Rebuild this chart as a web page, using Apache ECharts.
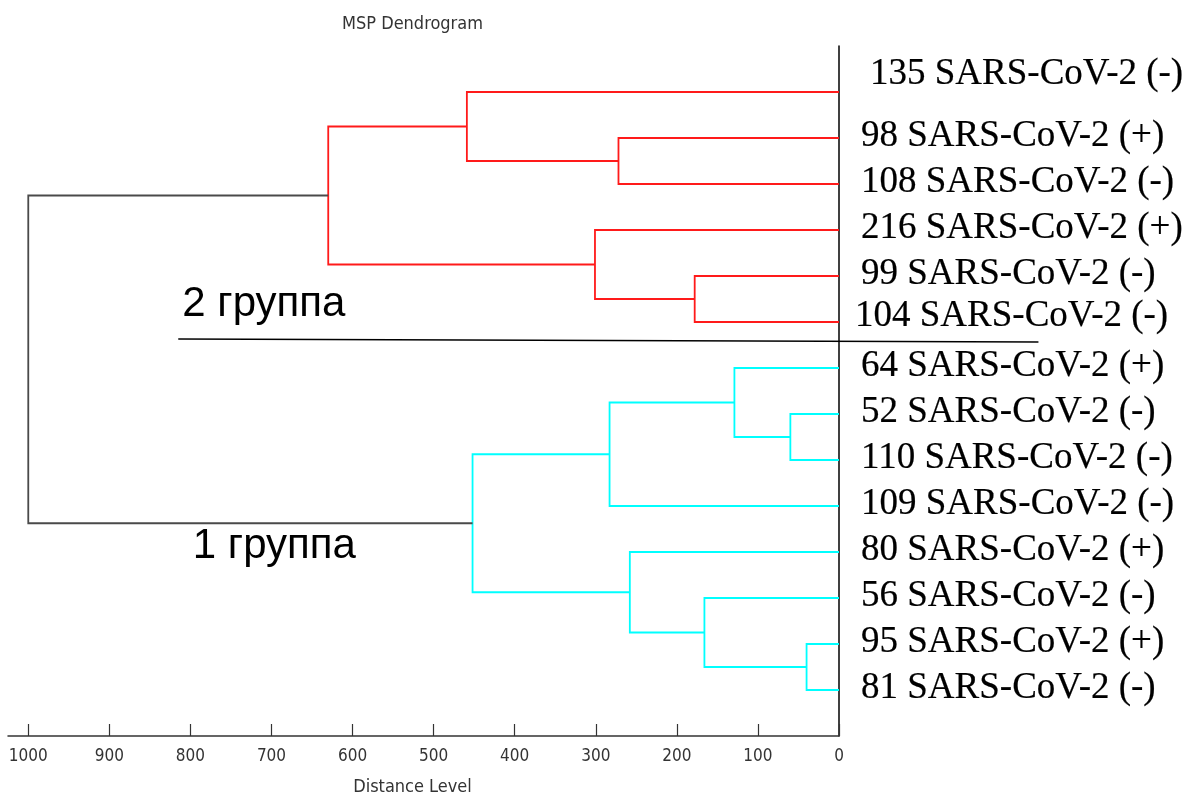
<!DOCTYPE html>
<html><head><meta charset="utf-8">
<script src="https://cdn.jsdelivr.net/npm/echarts@6/dist/echarts.min.js"></script>
<style>html,body{margin:0;padding:0;background:#fff}#chart{width:1190px;height:796px}</style>
</head><body><div id="chart"></div>
<script>
// Leaves, top to bottom
const leafNames = [
  '135 SARS-CoV-2 (-)', '98 SARS-CoV-2 (+)', '108 SARS-CoV-2 (-)', '216 SARS-CoV-2 (+)',
  '99 SARS-CoV-2 (-)', '104 SARS-CoV-2 (-)', '64 SARS-CoV-2 (+)', '52 SARS-CoV-2 (-)',
  '110 SARS-CoV-2 (-)', '109 SARS-CoV-2 (-)', '80 SARS-CoV-2 (+)', '56 SARS-CoV-2 (-)',
  '95 SARS-CoV-2 (+)', '81 SARS-CoV-2 (-)'
];
// Linkage: merge k creates node 14+k from nodes mergeLeft[k] and mergeRight[k]
const mergeLeft   = [12, 7, 6, 11, 4, 10, 1, 16, 3, 21, 0, 24, 25];
const mergeRight  = [13, 8, 15, 14, 5, 17, 2, 9, 18, 19, 20, 22, 23];
const mergeHeight = [40, 60, 129, 166, 178, 258, 272, 283, 301, 452, 459, 630, 1000];
const mergeGroup  = ['g1','g1','g1','g1','g2','g1','g2','g1','g2','g1','g2','g2','root'];
const xTickValues = [0, 100, 200, 300, 400, 500, 600, 700, 800, 900, 1000];
const groupNames = ['2 группа', '1 группа'];

// styling
const groupColor = { g1: '#00ffff', g2: '#ff1a1a', root: '#4a4a4a' };
const narrow = "'Liberation Sans Narrow', 'DejaVu Sans Condensed', sans-serif";
const labelNudge = { 0: [9, -16], 5: [-6, -4] }; // hand-placed label offsets in the original

const nodeY = leafNames.map((_, i) => i);
const nodeH = leafNames.map(() => 0);
const linesData = [];
mergeHeight.forEach((H, k) => {
  const l = mergeLeft[k], r = mergeRight[k];
  nodeY.push((nodeY[l] + nodeY[r]) / 2);
  nodeH.push(H);
  linesData.push({
    coords: [[nodeH[l], nodeY[l]], [H, nodeY[l]], [H, nodeY[r]], [nodeH[r], nodeY[r]]],
    lineStyle: { color: groupColor[mergeGroup[k]], width: 1.8 }
  });
});

const chart = echarts.init(document.getElementById('chart'));
chart.setOption({
  animation: false,
  backgroundColor: '#fff',
  title: {
    text: 'MSP Dendrogram', left: 337, top: 10,
    textStyle: { fontFamily: narrow, fontSize: 18, fontWeight: 'normal', color: '#333' }
  },
  grid: { left: 8, right: 351, top: 46, height: 690, containLabel: false, outerBoundsMode: 'none' },
  xAxis: {
    type: 'value', inverse: true, min: 0, max: 1025,
    splitLine: { show: false },
    axisLine: { show: true, onZero: false, lineStyle: { color: '#333', width: 1.5 } },
    axisTick: { show: true, inside: true, length: 12, customValues: xTickValues, lineStyle: { color: '#333', width: 1.2 } },
    axisLabel: { customValues: xTickValues, formatter: v => String(v), fontFamily: narrow, fontSize: 17, color: '#333', margin: 12 },
    name: 'Distance Level', nameLocation: 'middle', nameGap: 42,
    nameTextStyle: { fontFamily: narrow, fontSize: 18, color: '#333', padding: [0, 22, 0, 0] }
  },
  yAxis: {
    type: 'value', inverse: true, min: -1, max: 14, position: 'right',
    splitLine: { show: false },
    axisLine: { show: true, onZero: false, lineStyle: { color: '#000', width: 1.5 } },
    axisTick: { show: false }, axisLabel: { show: false }
  },
  series: [
    {
      type: 'lines', coordinateSystem: 'cartesian2d', polyline: true, silent: true,
      lineStyle: { width: 1.8, opacity: 1 },
      data: linesData
    },
    {
      type: 'scatter', symbolSize: 0, silent: true, clip: false,
      itemStyle: { opacity: 1 },
      data: leafNames.map((n, i) => {
        const nudge = labelNudge[i] || [0, 0];
        return { value: [0, i], label: { offset: [nudge[0], -2 + nudge[1]] } };
      }),
      label: {
        show: true, position: 'right', distance: 22, opacity: 1,
        formatter: p => leafNames[p.dataIndex],
        fontFamily: "'Liberation Serif', 'Times New Roman', serif", fontSize: 37, color: '#000',
        textBorderColor: '#000', textBorderWidth: 0.2
      }
    }
  ]
});

const P = (x, y) => chart.convertToPixel({ gridIndex: 0 }, [x, y]);
const s0 = P(815, 5.37), s1 = P(-246, 5.435);
const t2 = P(810, 4.17), t1 = P(797, 9.43);
const groupFont = "42px 'Liberation Sans', Arial, sans-serif";
chart.setOption({
  graphic: [
    { type: 'line', shape: { x1: s0[0], y1: s0[1], x2: s1[0], y2: s1[1] }, style: { stroke: '#000', lineWidth: 1.6 }, silent: true },
    { type: 'text', x: t2[0], y: t2[1], style: { text: groupNames[0], font: groupFont, fill: '#000' }, silent: true },
    { type: 'text', x: t1[0], y: t1[1], style: { text: groupNames[1], font: groupFont, fill: '#000' }, silent: true }
  ]
});
</script></body></html>
